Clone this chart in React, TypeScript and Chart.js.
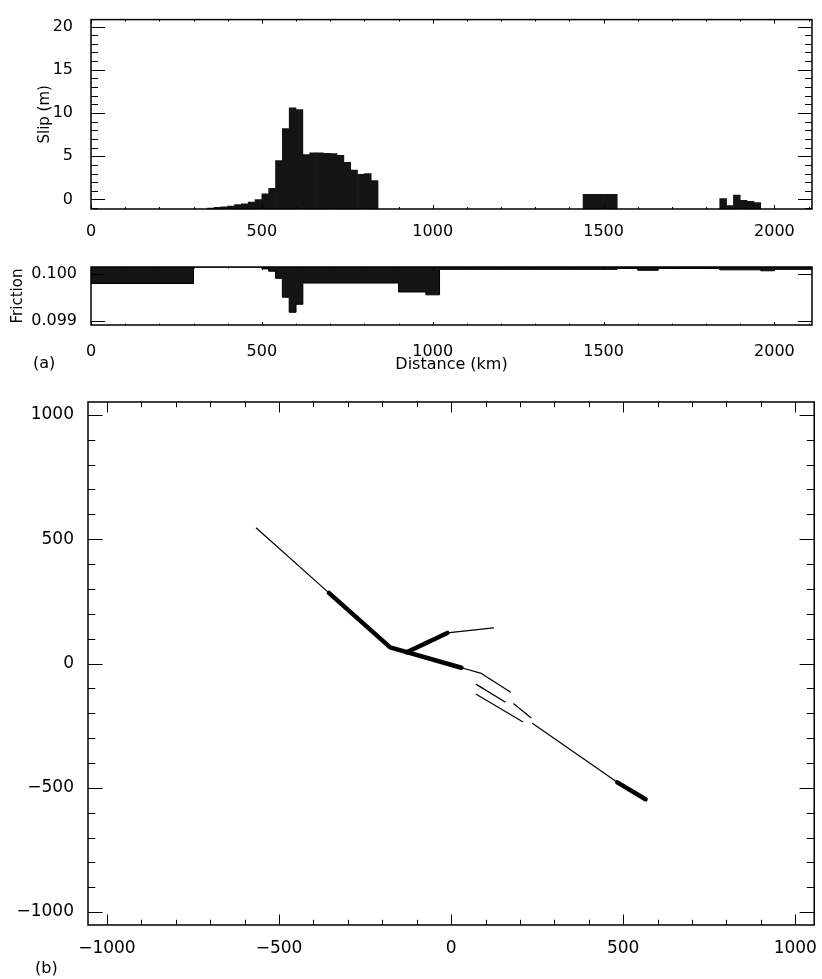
import React, { useEffect, useRef } from 'react';
import { Chart, registerables } from 'chart.js';

Chart.register(...registerables);

// ---------------- Panel (a): slip histogram ----------------
const slipBinKm = [
  350, 370, 390, 410, 430, 450, 470, 490,
  510, 530, 550, 570, 590, 610,
  630, 650, 670, 690, 710, 730, 750, 770, 790, 810, 830,
  1450, 1470, 1490, 1510, 1530,
  1850, 1870, 1890, 1910, 1930, 1950,
];
const slipMeters = [
  -1.0, -0.9, -0.85, -0.75, -0.6, -0.5, -0.3, 0.0,
  0.65, 1.3, 4.5, 8.2, 10.6, 10.4,
  5.2, 5.4, 5.4, 5.35, 5.3, 5.1, 4.3, 3.4, 2.9, 3.0, 2.2,
  0.6, 0.6, 0.6, 0.6, 0.6,
  0.1, -0.7, 0.5, -0.1, -0.2, -0.35,
];
const distanceTicks = [0, 500, 1000, 1500, 2000];
const slipTicks = [0, 5, 10, 15, 20];

// ---------------- Panel (a): friction ----------------
const frictionKm = [0, 300, 500, 520, 540, 560, 580, 600, 620, 900, 980, 1020, 1540, 1600, 1660, 1840, 1960, 2000, 2110];
const frictionValue = [
  0.09979, 0.10014, 0.1001, 0.10005, 0.0999, 0.0995, 0.09918, 0.09935, 0.0998,
  0.09961, 0.09955, 0.10009, 0.10011, 0.10007, 0.10011, 0.10008, 0.10006, 0.10009, 0.10009,
];
const frictionTicks = [0.099, 0.1];

// ---------------- Panel (b): fault map ----------------
const nwTrace = [[-566, 545], [-355, 284]];
const mainRupture = [[-355, 284], [-177, 65], [30, -17]];
const seTrace = [[30, -17], [88, -40], [172, -115]];
const branchRupture = [[-129, 45], [-11, 123]];
const branchTrace = [[-11, 123], [123, 143]];
const strandA = [[73, -84], [157, -155]];
const strandB = [[73, -124], [208, -234]];
const strandC = [[182, -162], [232, -218]];
const southTrace = [[237, -241], [483, -478]];
const southRupture = [[483, -478], [565, -546]];
const mapTicks = [-1000, -500, 0, 500, 1000];

const thinSegments = [nwTrace, seTrace, branchTrace, strandA, strandB, strandC, southTrace];
const thickSegments = [mainRupture, branchRupture, southRupture];

// axis ranges
const DIST_MAX = 2110;
const SLIP_MIN = -1.1;
const SLIP_MAX = 20.8;
const FRIC_MIN = 0.09891;
const FRIC_MAX = 0.10014;
const MAP_X = 1055;
const MAP_Y = 1052;

const FONT = 'DejaVu Sans, Liberation Sans, Arial, sans-serif';

function steps(a: number, b: number, s: number): number[] {
  const out: number[] = [];
  for (let v = a; v <= b + 1e-9; v += s) out.push(Math.round(v * 1e6) / 1e6);
  return out;
}

function fmt(v: number): string {
  return v < 0 ? '\u2212' + Math.abs(v) : String(v);
}

type FrameCfg = {
  xMajor: number[]; xMinor: number[]; yMajor: number[]; yMinor: number[];
  xLen: number; yLen: number; width: number;
};

function framePlugin(id: string, cfg: FrameCfg) {
  return {
    id,
    afterDatasetsDraw(chart: any) {
      const { ctx, chartArea: a, scales } = chart;
      const xs = scales.x;
      const ys = scales.y;
      ctx.save();
      ctx.strokeStyle = '#000';
      ctx.lineWidth = 1;
      ctx.beginPath();
      const xt = (vals: number[], len: number) => vals.forEach((v) => {
        const p = Math.round(xs.getPixelForValue(v)) + 0.5;
        if (p < a.left || p > a.right) return;
        ctx.moveTo(p, a.bottom); ctx.lineTo(p, a.bottom - len);
        ctx.moveTo(p, a.top); ctx.lineTo(p, a.top + len);
      });
      const yt = (vals: number[], len: number) => vals.forEach((v) => {
        const p = Math.round(ys.getPixelForValue(v)) + 0.5;
        if (p < a.top || p > a.bottom) return;
        ctx.moveTo(a.left, p); ctx.lineTo(a.left + len, p);
        ctx.moveTo(a.right, p); ctx.lineTo(a.right - len, p);
      });
      xt(cfg.xMajor, cfg.xLen);
      xt(cfg.xMinor, cfg.xLen / 2);
      yt(cfg.yMajor, cfg.yLen);
      yt(cfg.yMinor, cfg.yLen / 2);
      ctx.stroke();
      ctx.lineWidth = cfg.width;
      ctx.strokeRect(a.left, a.top, a.right - a.left, a.bottom - a.top);
      ctx.restore();
    },
  };
}

function fixedTicks(vals: number[]) {
  return (s: any) => { s.ticks = vals.map((value) => ({ value })); };
}

export default function App() {
  const slipRef = useRef<HTMLCanvasElement>(null);
  const fricRef = useRef<HTMLCanvasElement>(null);
  const mapRef = useRef<HTMLCanvasElement>(null);

  useEffect(() => {
    const charts: Chart[] = [];
    const tickFont = { family: FONT, size: 16 };
    const titleFont = { family: FONT, size: 15 };
    const mapFont = { family: FONT, size: 17 };

    // --- slip ---
    charts.push(new Chart(slipRef.current as HTMLCanvasElement, {
      type: 'bar',
      data: {
        datasets: [{
          data: slipBinKm.map((x, i) => ({ x, y: [SLIP_MIN, slipMeters[i]] })) as any,
          backgroundColor: '#141414',
          borderWidth: 0,
          barPercentage: 1,
          categoryPercentage: 1,
        }],
      },
      options: {
        animation: false,
        responsive: false,
        maintainAspectRatio: false,
        layout: { padding: { left: 0, right: 10, top: 8, bottom: 0 } },
        plugins: { legend: { display: false }, tooltip: { enabled: false } },
        scales: {
          x: {
            type: 'linear', min: 0, max: DIST_MAX, offset: false,
            grid: { display: false }, border: { display: false },
            ticks: { font: tickFont, color: '#000', padding: 5, autoSkip: false, maxRotation: 0, callback: (v: any) => fmt(Number(v)) },
            afterBuildTicks: fixedTicks(distanceTicks),
            afterFit: (s: any) => { s.height = 36; },
          },
          y: {
            type: 'linear', min: SLIP_MIN, max: SLIP_MAX,
            grid: { display: false }, border: { display: false },
            ticks: { font: tickFont, color: '#000', padding: 10, autoSkip: false, callback: (v: any) => fmt(Number(v)) },
            afterBuildTicks: fixedTicks(slipTicks),
            title: { display: true, text: 'Slip (m)', font: titleFont, color: '#000', padding: { top: 36, bottom: 0 } },
            afterFit: (s: any) => { s.width = 91; },
          },
        },
      } as any,
      plugins: [framePlugin('frameSlip', {
        xMajor: distanceTicks, xMinor: steps(100, 2100, 100),
        yMajor: slipTicks, yMinor: steps(-1, 20, 1),
        xLen: 4, yLen: 14, width: 1.5,
      })],
    }));

    // --- friction ---
    charts.push(new Chart(fricRef.current as HTMLCanvasElement, {
      type: 'line',
      data: {
        datasets: [{
          data: frictionKm.map((x, i) => ({ x, y: frictionValue[i] })),
          stepped: true,
          fill: 'end',
          backgroundColor: '#141414',
          borderColor: '#000',
          borderWidth: 1,
          pointRadius: 0,
        }],
      },
      options: {
        animation: false,
        responsive: false,
        maintainAspectRatio: false,
        layout: { padding: { left: 0, right: 10, top: 22, bottom: 0 } },
        plugins: { legend: { display: false }, tooltip: { enabled: false } },
        scales: {
          x: {
            type: 'linear', min: 0, max: DIST_MAX,
            grid: { display: false }, border: { display: false },
            ticks: { font: tickFont, color: '#000', padding: 9, autoSkip: false, maxRotation: 0, callback: (v: any) => fmt(Number(v)) },
            afterBuildTicks: fixedTicks(distanceTicks),
            title: { display: true, text: 'Distance (km)', font: tickFont, color: '#000', padding: { top: 0, bottom: 11 } },
            afterFit: (s: any) => { s.height = 60; },
          },
          y: {
            type: 'linear', min: FRIC_MIN, max: FRIC_MAX,
            grid: { display: false }, border: { display: false },
            ticks: { font: tickFont, color: '#000', padding: 6, autoSkip: false, callback: (v: any) => Number(v).toFixed(3) },
            afterBuildTicks: fixedTicks(frictionTicks),
            title: { display: true, text: 'Friction', font: titleFont, color: '#000', padding: { top: 9, bottom: 0 } },
            afterFit: (s: any) => { s.width = 91; },
          },
        },
      } as any,
      plugins: [framePlugin('frameFric', {
        xMajor: distanceTicks, xMinor: steps(100, 2100, 100),
        yMajor: frictionTicks, yMinor: [],
        xLen: 3, yLen: 14, width: 1.5,
      })],
    }));

    // --- map ---
    const mapSets = [
      ...thinSegments.map((seg) => ({ seg, w: 1.2 })),
      ...thickSegments.map((seg) => ({ seg, w: 4.5 })),
    ];
    charts.push(new Chart(mapRef.current as HTMLCanvasElement, {
      type: 'scatter',
      data: {
        datasets: mapSets.map(({ seg, w }) => ({
          data: seg.map(([x, y]) => ({ x, y })),
          showLine: true,
          borderColor: '#000',
          borderWidth: w,
          borderCapStyle: 'round',
          borderJoinStyle: 'round',
          pointRadius: 0,
          fill: false,
        })),
      },
      options: {
        animation: false,
        responsive: false,
        maintainAspectRatio: false,
        layout: { padding: { left: 0, right: 4, top: 17, bottom: 0 } },
        plugins: { legend: { display: false }, tooltip: { enabled: false } },
        scales: {
          x: {
            type: 'linear', min: -MAP_X, max: MAP_X,
            grid: { display: false }, border: { display: false },
            ticks: { font: mapFont, color: '#000', padding: 5, autoSkip: false, maxRotation: 0, callback: (v: any) => fmt(Number(v)) },
            afterBuildTicks: fixedTicks(mapTicks),
            afterFit: (s: any) => { s.height = 54; },
          },
          y: {
            type: 'linear', min: -MAP_Y, max: MAP_Y,
            grid: { display: false }, border: { display: false },
            ticks: { font: mapFont, color: '#000', padding: 6, autoSkip: false, callback: (v: any) => fmt(Number(v)) },
            afterBuildTicks: fixedTicks(mapTicks),
            afterFit: (s: any) => { s.width = 88; },
          },
        },
      } as any,
      plugins: [framePlugin('frameMap', {
        xMajor: mapTicks, xMinor: steps(-1000, 1000, 100),
        yMajor: mapTicks, yMinor: steps(-1000, 1000, 100),
        xLen: 10.5, yLen: 14.6, width: 1.5,
      })],
    }));

    return () => { charts.forEach((c) => c.destroy()); };
  }, []);

  const abs = (top: number, h: number): React.CSSProperties => ({
    position: 'absolute', left: 0, top, width: 822, height: h, display: 'block',
  });
  const label: React.CSSProperties = {
    position: 'absolute', fontFamily: FONT, fontSize: 16, color: '#000', lineHeight: '18px', margin: 0,
  };

  return (
    <div style={{ position: 'absolute', left: 0, top: 0, width: 822, height: 979, background: '#fff', overflow: 'hidden' }}>
      <canvas ref={slipRef} width={822} height={245} style={abs(0, 245)} />
      <canvas ref={fricRef} width={822} height={140} style={abs(245, 140)} />
      <canvas ref={mapRef} width={822} height={594} style={abs(385, 594)} />
      <div style={{ ...label, left: 33, top: 354 }}>(a)</div>
      <div style={{ ...label, left: 35, top: 959 }}>(b)</div>
    </div>
  );
}
